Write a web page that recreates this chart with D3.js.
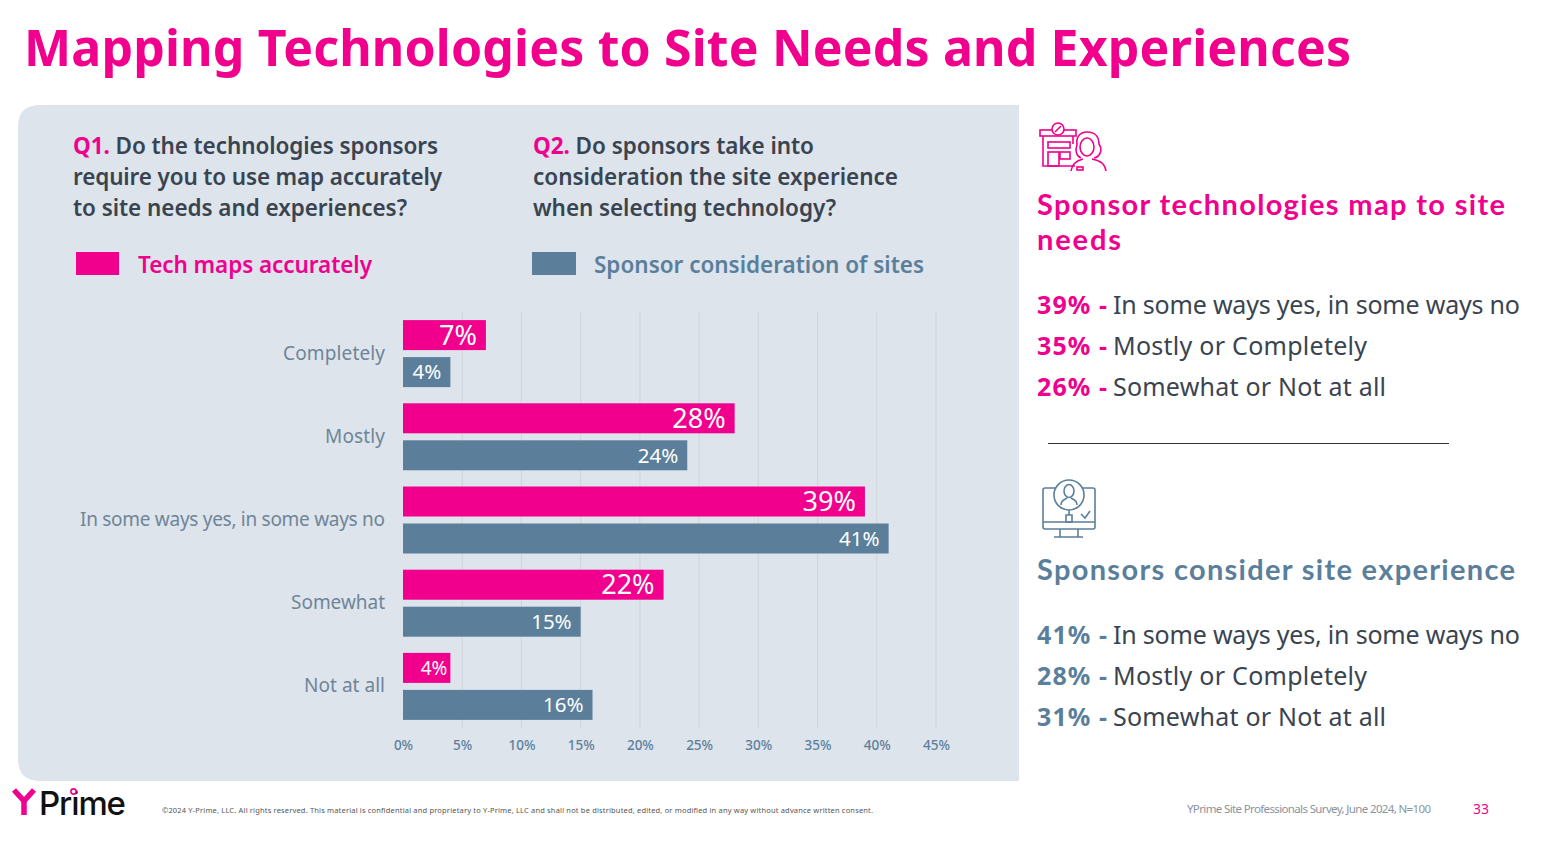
<!DOCTYPE html>
<html>
<head>
<meta charset="utf-8">
<script src="https://cdn.jsdelivr.net/npm/d3@7"></script>
<style>
html, body { margin: 0; padding: 0; background: #fff; overflow: hidden; }
text { font-family: "Noto Sans", "Open Sans", sans-serif; }
</style>
</head>
<body>
<div id="chart"></div>
<script>
var categories = ["Completely", "Mostly", "In some ways yes, in some ways no", "Somewhat", "Not at all"];
var seriesNames = ["Tech maps accurately", "Sponsor consideration of sites"];
var techValues = [7, 28, 39, 22, 4];
var sponsorValues = [4, 24, 41, 15, 16];
var xTicks = [0, 5, 10, 15, 20, 25, 30, 35, 40, 45];

var q1Lines = ["Do the technologies sponsors", "require you to use map accurately", "to site needs and experiences?"];
var q2Lines = ["Do sponsors take into", "consideration the site experience", "when selecting technology?"];
var techSummary = [["39%", "In some ways yes, in some ways no"], ["35%", "Mostly or Completely"], ["26%", "Somewhat or Not at all"]];
var sponsorSummary = [["41%", "In some ways yes, in some ways no"], ["28%", "Mostly or Completely"], ["31%", "Somewhat or Not at all"]];

var pink = "#f0008c";
var slate = "#5b7f9b";
var dark = "#3a4450";
var panelColor = "#dde4ec";

var svg = d3.select("#chart").append("svg")
    .attr("width", 1560)
    .attr("height", 856);

svg.append("text")
    .attr("x", 24).attr("y", 66)
    .attr("font-size", 50).attr("font-weight", 700)
    .attr("fill", pink)
    .attr("textLength", 1327)
    .text("Mapping Technologies to Site Needs and Experiences");

// panel, rounded on the left side only
svg.append("path")
    .attr("d", "M1019,105 H40 Q18,105 18,127 V759 Q18,781 40,781 H1019 Z")
    .attr("fill", panelColor);

// questions
function question(x, label, lines, widths) {
    var g = svg.append("g");
    lines.forEach(function(line, i) {
        var t = g.append("text")
            .attr("x", x).attr("y", 153.5 + i * 31.2)
            .attr("font-size", 22.5).attr("font-weight", 600)
            .attr("fill", dark)
            .attr("textLength", widths[i]);
        if (i === 0) {
            t.append("tspan").attr("fill", pink).attr("font-weight", 700).text(label + " ");
        }
        t.append("tspan").text(line);
    });
}
question(73, "Q1.", q1Lines, [365, 369, 334]);
question(533, "Q2.", q2Lines, [281, 365, 303]);

// legend
var legendX = [76, 532];
var legendTextX = [138, 594];
var legendWidths = [234, 330];
var legendColors = [pink, slate];
seriesNames.forEach(function(name, i) {
    svg.append("rect")
        .attr("x", legendX[i]).attr("y", 252)
        .attr("width", i === 0 ? 43 : 44).attr("height", 23)
        .attr("fill", legendColors[i]);
    svg.append("text")
        .attr("x", legendTextX[i]).attr("y", 272.5)
        .attr("font-size", 22.5).attr("font-weight", 600)
        .attr("fill", legendColors[i])
        .attr("textLength", legendWidths[i])
        .text(name);
});

// chart
var x = d3.scaleLinear().domain([0, 45]).range([403, 936]);
var y = d3.scaleBand().domain(categories).range([312, 728]);
var y1 = d3.scaleBand().domain(seriesNames).range([0, y.step()])
    .paddingInner(0.189).paddingOuter(0.219);

var grid = svg.append("g");
grid.selectAll("line").data(xTicks.slice(1)).enter().append("line")
    .attr("x1", function(d) { return x(d); })
    .attr("x2", function(d) { return x(d); })
    .attr("y1", 312).attr("y2", 728)
    .attr("stroke", "#d0d5d9").attr("stroke-width", 1);

var xAxis = svg.append("g")
    .attr("transform", "translate(0,728)")
    .call(d3.axisBottom(x).tickValues(xTicks).tickSize(0).tickPadding(12).tickFormat(function(d) { return d + "%"; }));
xAxis.select(".domain").remove();
xAxis.selectAll("text")
    .attr("font-size", 13.5).attr("font-weight", 500).attr("fill", slate)
    .style("font-family", '"Noto Sans", sans-serif');

var labelWidths = [102, 60, 305, 94, 81];
var yAxis = svg.append("g")
    .attr("transform", "translate(385,0)")
    .call(d3.axisLeft(y).tickSize(0).tickPadding(0));
yAxis.select(".domain").remove();
yAxis.selectAll("text")
    .attr("font-size", 19).attr("fill", "#6f8598")
    .attr("textLength", function(d, i) { return labelWidths[i]; })
    .style("font-family", '"Noto Sans", sans-serif');

var series = [
    { name: seriesNames[0], values: techValues, color: pink, size: [27, 27, 27, 27, 19], inset: [9, 9, 9, 9, 3] },
    { name: seriesNames[1], values: sponsorValues, color: slate, size: [20.5, 20.5, 20.5, 20.5, 20.5], inset: [9, 9, 9, 9, 9] }
];
series.forEach(function(s) {
    var g = svg.append("g");
    g.selectAll("rect").data(s.values).enter().append("rect")
        .attr("x", x(0))
        .attr("y", function(d, i) { return y(categories[i]) + y1(s.name); })
        .attr("width", function(d) { return x(d) - x(0); })
        .attr("height", y1.bandwidth())
        .attr("fill", s.color);
    g.selectAll("text").data(s.values).enter().append("text")
        .attr("x", function(d, i) { return x(d) - s.inset[i]; })
        .attr("y", function(d, i) { return y(categories[i]) + y1(s.name) + y1.bandwidth() / 2; })
        .attr("dy", "0.36em")
        .attr("text-anchor", "end")
        .attr("font-size", function(d, i) { return s.size[i]; })
        .attr("fill", "#fff")
        .text(function(d) { return d + "%"; });
});

// right column
function iconTech(g) {
    g.attr("fill", "none").attr("stroke", pink).attr("stroke-width", 1.6);
    g.append("rect").attr("x", 1040).attr("y", 130).attr("width", 36).attr("height", 6);
    g.append("path").attr("d", "M1043,136 V166 H1075 M1073,136 V144");
    g.append("circle").attr("cx", 1058).attr("cy", 129).attr("r", 6).attr("fill", "#fff");
    g.append("path").attr("d", "M1055,132 L1061,126");
    g.append("rect").attr("x", 1048).attr("y", 142).attr("width", 22).attr("height", 6);
    g.append("rect").attr("x", 1048).attr("y", 152).attr("width", 11).attr("height", 14);
    g.append("rect").attr("x", 1060).attr("y", 152).attr("width", 10).attr("height", 7);
    g.append("path").attr("d", "M1087,132 C1079,132 1076,138 1077,145 C1075,150 1076,156 1081,158 M1087,132 C1096,132 1099,138 1099,144 C1103,150 1100,157 1094,158");
    g.append("ellipse").attr("cx", 1087).attr("cy", 147).attr("rx", 7).attr("ry", 9);
    g.append("path").attr("d", "M1071,171 C1072,163 1079,160 1083,159 M1106,171 C1105,163 1098,160 1092,159");
    g.append("rect").attr("x", 1077).attr("y", 167).attr("width", 6).attr("height", 3);
}
function iconScreen(g) {
    g.attr("fill", "none").attr("stroke", slate).attr("stroke-width", 1.6);
    g.append("rect").attr("x", 1043).attr("y", 488).attr("width", 52).attr("height", 41).attr("rx", 2);
    g.append("path").attr("d", "M1043,522 H1095 M1060,529 V537 M1078,529 V537 M1054,537 H1083");
    g.append("circle").attr("cx", 1069).attr("cy", 495).attr("r", 15).attr("fill", "#fff");
    g.append("ellipse").attr("cx", 1069).attr("cy", 491).attr("rx", 5).attr("ry", 6.5);
    g.append("path").attr("d", "M1061,505 C1061,500 1065,499 1067,498 M1077,505 C1077,500 1073,499 1071,498");
    g.append("path").attr("d", "M1069,510 V515 M1066,515 H1072 V522 H1066 Z");
    g.append("path").attr("d", "M1081,514 L1085,518 L1090,511");
}
iconTech(svg.append("g"));
iconScreen(svg.append("g"));

function rightHeading(lines, yStart, color, widths) {
    lines.forEach(function(line, i) {
        svg.append("text")
            .attr("x", 1037).attr("y", yStart + i * 35)
            .attr("font-size", 29).attr("font-weight", 700)
            .style("font-family", "Lato, sans-serif")
            .attr("fill", color)
            .attr("textLength", widths[i])
            .text(line);
    });
}
rightHeading(["Sponsor technologies map to site", "needs"], 215, pink, [468, 84]);
rightHeading(["Sponsors consider site experience"], 580, slate, [478]);

function summary(rows, yStart, color) {
    rows.forEach(function(row, i) {
        var rowY = yStart + i * 41;
        svg.append("text")
            .attr("x", 1037).attr("y", rowY)
            .attr("font-size", 25).attr("font-weight", 700)
            .attr("fill", color)
            .attr("textLength", 70)
            .text(row[0] + " -");
        svg.append("text")
            .attr("x", 1113).attr("y", rowY)
            .attr("font-size", 25)
            .attr("fill", dark)
            .attr("textLength", row[1].length > 30 ? 407 : (row[1].length > 21 ? 273 : 254))
            .text(row[1]);
    });
}
summary(techSummary, 314, pink);
summary(sponsorSummary, 644, slate);

svg.append("line")
    .attr("x1", 1048).attr("x2", 1449)
    .attr("y1", 443.5).attr("y2", 443.5)
    .attr("stroke", "#333").attr("stroke-width", 1);

// footer
svg.append("path")
    .attr("d", "M14,790 L24,801 L34,790 M24,801 V815")
    .attr("fill", "none").attr("stroke", pink).attr("stroke-width", 5.5);
svg.append("text")
    .attr("x", 39).attr("y", 815)
    .attr("font-size", 33).attr("font-weight", 500).attr("fill", "#111")
    .style("font-family", "Inter, sans-serif")
    .attr("textLength", 87)
    .text("Prime");
svg.append("circle")
    .attr("cx", 73.5).attr("cy", 791.5).attr("r", 2.6)
    .attr("fill", "#fff").attr("stroke", pink).attr("stroke-width", 1.6);
svg.append("text")
    .attr("x", 162).attr("y", 813)
    .attr("font-size", 7.5).attr("fill", "#555")
    .attr("textLength", 711)
    .text("©2024 Y-Prime, LLC. All rights reserved. This material is confidential and proprietary to Y-Prime, LLC and shall not be distributed, edited, or modified in any way without advance written consent.");
svg.append("text")
    .attr("x", 1187).attr("y", 813)
    .attr("font-size", 11.5).attr("fill", "#8a949e")
    .attr("textLength", 244)
    .text("YPrime Site Professionals Survey, June 2024, N=100");
svg.append("text")
    .attr("x", 1473).attr("y", 814)
    .attr("font-size", 14).attr("fill", pink)
    .attr("textLength", 16)
    .text("33");
</script>
</body>
</html>
